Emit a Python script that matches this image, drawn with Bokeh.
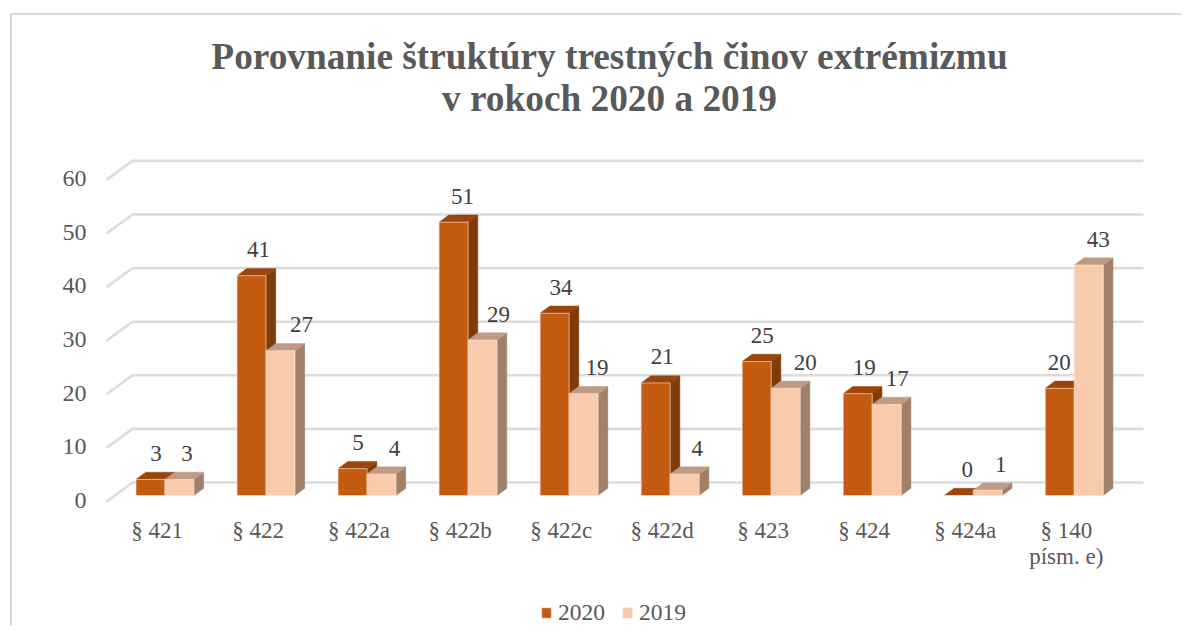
from bokeh.plotting import figure
from bokeh.embed import file_html
from bokeh.resources import INLINE
from bokeh.models import Range1d, LinearAxis, FixedTicker, Legend, LegendItem
from bokeh.core.properties import value

# ---- data ----
categories = ["§ 421", "§ 422", "§ 422a", "§ 422b", "§ 422c", "§ 422d", "§ 423", "§ 424", "§ 424a", "§ 140\npísm. e)"]
values_2020 = [3, 41, 5, 51, 34, 21, 25, 19, 0, 20]
values_2019 = [3, 27, 4, 29, 19, 4, 20, 17, 1, 43]
y_ticks = [0, 10, 20, 30, 40, 50, 60]
title_lines = ["Porovnanie štruktúry trestných činov extrémizmu", "v rokoch 2020 a 2019"]

# ---- layout (pixels of the picture) ----
W, H = 1181, 625
GROUP_PX = 101.03
BAR_PX = 29.0
X0_PX = 135.5          # left edge of first bar
Y0_PX = 495.0          # front floor
UNIT_PX = 5.36         # pixels per value unit
label_dx_2020 = [5.5, 7, 5.5, 9, 6.5, 6.5, 5.5, 6.5, 8.5, -0.5]
label_dx_2019 = [7.5, 21, 13, 16, 13.5, 12.5, 19.5, 10.5, 13, 9.5]

def X(px):
    return (px - X0_PX) / GROUP_PX
def Y(py):
    return (Y0_PX - py) / UNIT_PX

bar_w = BAR_PX / GROUP_PX
dep_x = 9.7 / GROUP_PX
dep_y = 7.2 / UNIT_PX
wall_dx = 26.0 / GROUP_PX
wall_top = Y(482.0)     # back wall value 0
wall_front = Y(501.0)   # front of floor value 0
right_end = X(1143)

p = figure(width=W, height=H, output_backend="svg", toolbar_location=None,
           x_range=Range1d(X(0), X(W)), y_range=Range1d(Y(H), Y(0)),
           x_axis_type=None, y_axis_type=None, min_border=0, outline_line_color=None)
p.grid.visible = False

# chart border
p.line([X(10.5), X(W)], [Y(13.5), Y(13.5)], line_color="#cccccc", line_width=1.5)
p.line([X(10.5), X(10.5)], [Y(13.5), Y(H)], line_color="#d4d4d4", line_width=2)

# walls
xleft = X(106)
xback = xleft + wall_dx
grid_xs, grid_ys = [], []
for t in y_ticks:
    grid_xs.append([xleft, xback, right_end])
    grid_ys.append([wall_front + t, wall_top + t, wall_top + t])
p.multi_line(grid_xs, grid_ys, line_color="#dcdcdc", line_width=2.6)

def bars(vals, offset, front, top, side):
    lefts = [i + offset for i in range(len(vals))]
    rights = [l + bar_w for l in lefts]
    side_xs = [[r, r + dep_x, r + dep_x, r] for r in rights]
    side_ys = [[0, dep_y, v + dep_y, v] for v in vals]
    top_xs = [[l, l + dep_x, r + dep_x, r] for l, r in zip(lefts, rights)]
    top_ys = [[v, v + dep_y, v + dep_y, v] for v in vals]
    p.patches(side_xs, side_ys, fill_color=side, line_color=side, line_width=0.5)
    p.patches(top_xs, top_ys, fill_color=top, line_color=top, line_width=0.5)
    return p.vbar(x=[(l + r) / 2 for l, r in zip(lefts, rights)], width=bar_w, bottom=0, top=vals,
                  fill_color=front, line_color="#fbe5d6", line_width=0.6)

r20 = bars(values_2020, 0, "#C55A11", "#9A450C", "#7F3B08")
r19 = bars(values_2019, bar_w, "#F8CBAD", "#C09A82", "#A08069")

# value labels
FONT = "Liberation Serif"
lab_x, lab_y, lab_t = [], [], []
for i in range(len(categories)):
    lab_x.append(i + bar_w / 2 + label_dx_2020[i] / GROUP_PX)
    lab_y.append(values_2020[i] + 26 / UNIT_PX)
    lab_t.append(str(values_2020[i]))
    lab_x.append(i + 1.5 * bar_w + label_dx_2019[i] / GROUP_PX)
    lab_y.append(values_2019[i] + 26 / UNIT_PX)
    lab_t.append(str(values_2019[i]))
p.text(lab_x, lab_y, text=lab_t, text_font=value(FONT), text_font_size="23px",
       text_color="#404040", text_align="center", text_baseline="middle")

# title
p.text([X(609)] * 2, [Y(56), Y(98)], text=title_lines, text_font=value(FONT),
       text_font_size="37.3px", text_font_style="bold", text_color="#595959",
       text_align="center", text_baseline="middle")

# left axis on its own range: tick 0 sits at 500 px
p.extra_y_ranges["ticks"] = Range1d((500 - H) / 5.367, 500 / 5.367)
ax = LinearAxis(y_range_name="ticks", ticker=FixedTicker(ticks=y_ticks), fixed_location=X(103))
ax.axis_line_color = None
ax.major_tick_line_color = None
ax.minor_tick_line_color = None
ax.major_label_standoff = 11
ax.major_label_text_font = FONT
ax.major_label_text_font_size = "24px"
ax.major_label_text_color = "#595959"
p.add_layout(ax, "left")

# bottom axis on its own range; label centres sit 8 px left of group centres
p.extra_x_ranges["cats"] = Range1d(X(0) + 8 / GROUP_PX - bar_w, X(W) + 8 / GROUP_PX - bar_w)
bx = LinearAxis(x_range_name="cats", ticker=FixedTicker(ticks=list(range(len(categories)))),
                fixed_location=Y(511))
bx.major_label_overrides = {i: c.split("\n")[0] for i, c in enumerate(categories)}
bx.axis_line_color = None
bx.major_tick_line_color = None
bx.minor_tick_line_color = None
bx.major_label_standoff = 0
bx.major_label_text_font = FONT
bx.major_label_text_font_size = "23px"
bx.major_label_text_color = "#595959"
p.add_layout(bx, "below")

# second line of the last category label
p.text([len(categories) - 1 + bar_w - 8 / GROUP_PX], [Y(556)], text=[categories[-1].split("\n")[1]],
       text_font=value(FONT), text_font_size="23px", text_color="#595959",
       text_align="center", text_baseline="middle")

legend = Legend(items=[LegendItem(label="2020", renderers=[r20]), LegendItem(label="2019", renderers=[r19])],
                orientation="horizontal", location=(540, -1),
                glyph_width=12, glyph_height=13, spacing=16, padding=0, margin=0,
                label_standoff=6, border_line_color=None, background_fill_alpha=0,
                label_text_font=FONT, label_text_font_size="23.5px", label_text_color="#595959")
p.add_layout(legend, "center")

open("out.html", "w").write(file_html(p, INLINE))
